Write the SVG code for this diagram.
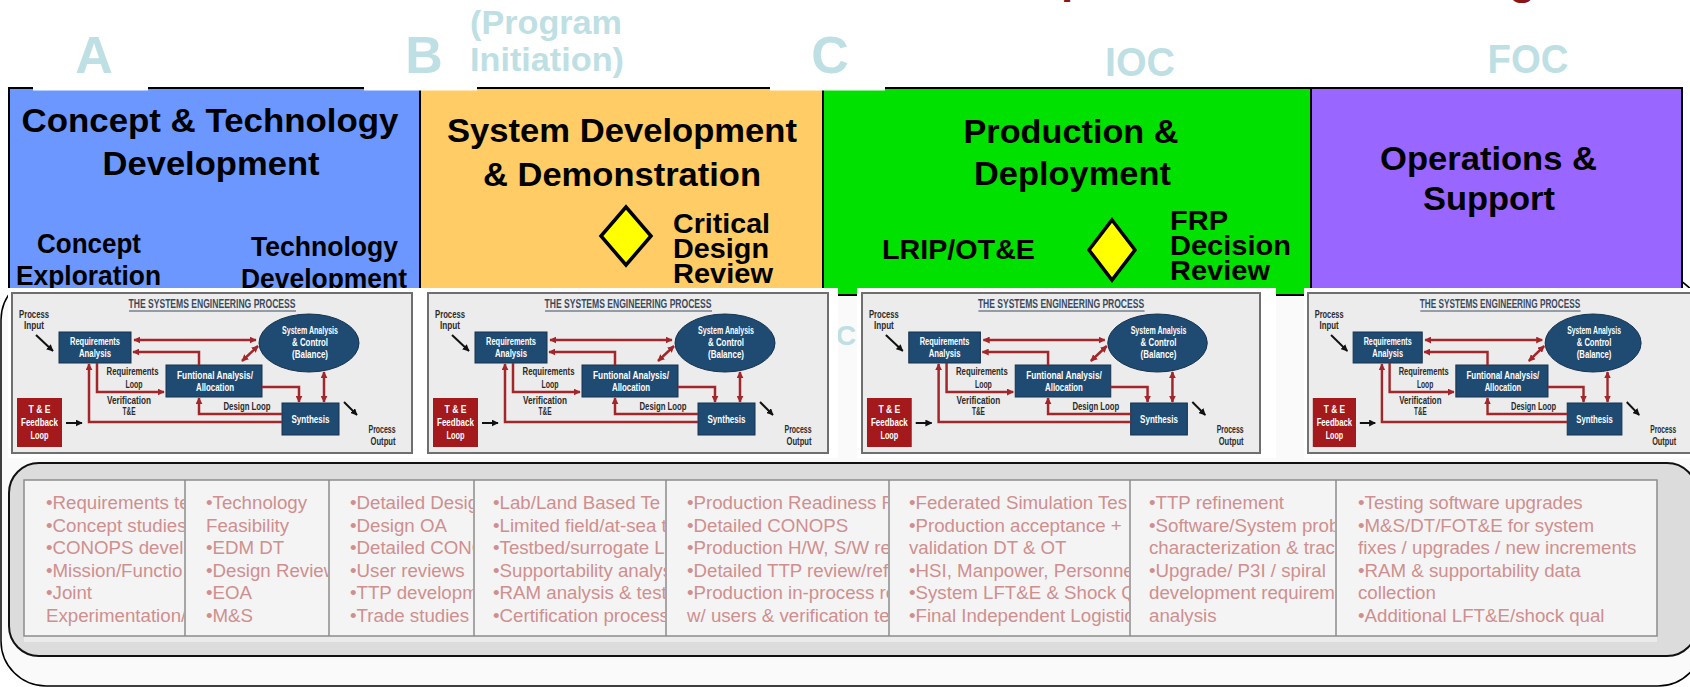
<svg xmlns="http://www.w3.org/2000/svg" width="1690" height="687" viewBox="0 0 1690 687">
<defs>
<style>
text{font-family:"Liberation Sans",Arial,sans-serif}
.lt{font-weight:bold;fill:#BEDFE3}
.h{font-weight:bold;font-size:33px;text-anchor:middle;fill:#000}
.s{font-weight:bold;font-size:28px;fill:#000}
.dm{fill:#FFFF00;stroke:#000;stroke-width:3.5}
.tb{font-size:18.7px;fill:#CF8F8F}
.pp{fill:#ECECEC;stroke:#6F6F6F;stroke-width:2}
.ptt{font-weight:bold;font-size:12.5px;text-anchor:middle;fill:#3A4A5E}
.pul{stroke:#3A4A5E;stroke-width:1}
.nv{fill:#1F4A72;stroke:#16324F;stroke-width:1}
.rd{fill:#A3191C}
.wt{font-weight:bold;font-size:10.5px;text-anchor:middle;fill:#fff}
.pl{font-weight:bold;font-size:10.5px;text-anchor:middle;fill:#2A2A2A}
.rl{fill:none;stroke:#A3262A;stroke-width:2.5}
.bk{stroke:#111;stroke-width:2}
.tbl{fill:#F4F4F4;stroke:#8C8C8C;stroke-width:1.5}
.div{stroke:#8C8C8C;stroke-width:1.5}
.wb{fill:#FFFFFF}
</style>
<marker id="ra" viewBox="0 0 10 10" refX="9" refY="5" markerWidth="7" markerHeight="7" markerUnits="userSpaceOnUse" orient="auto-start-reverse"><path d="M0,0L10,5L0,10z" fill="#A3262A"/></marker>
<marker id="ka" viewBox="0 0 10 10" refX="9" refY="5" markerWidth="7" markerHeight="7" markerUnits="userSpaceOnUse" orient="auto"><path d="M0,0L10,5L0,10z" fill="#111"/></marker>
<clipPath id="c1"><rect x="25" y="481" width="159" height="154"/></clipPath>
<clipPath id="c2"><rect x="186" y="481" width="142" height="154"/></clipPath>
<clipPath id="c3"><rect x="330" y="481" width="143" height="154"/></clipPath>
<clipPath id="c4"><rect x="475" y="481" width="190" height="154"/></clipPath>
<clipPath id="c5"><rect x="667" y="481" width="221" height="154"/></clipPath>
<clipPath id="c6"><rect x="890" y="481" width="239" height="154"/></clipPath>
<clipPath id="c7"><rect x="1131" y="481" width="204" height="154"/></clipPath>
<clipPath id="c8"><rect x="1337" y="481" width="319" height="154"/></clipPath>
</defs>
<rect x="0" y="0" width="1690" height="687" fill="#FFFFFF"/>

<g id="title-fragments">
<text x="1061" y="-7" style="font-weight:bold;font-size:44px;fill:#8B1414">p</text>
<text x="1509" y="-6" style="font-weight:bold;font-size:44px;fill:#8B1414">g</text>
</g>

<g id="milestones">
<text class="lt" x="94" y="73" style="font-size:52px" text-anchor="middle">A</text>
<text class="lt" x="424" y="73" style="font-size:52px" text-anchor="middle">B</text>
<text class="lt" x="470" y="34" style="font-size:33px" textLength="152" lengthAdjust="spacingAndGlyphs">(Program</text>
<text class="lt" x="470" y="71" style="font-size:33px" textLength="154" lengthAdjust="spacingAndGlyphs">Initiation)</text>
<text class="lt" x="830" y="73" style="font-size:52px" text-anchor="middle">C</text>
<text class="lt" x="1140" y="76" style="font-size:40px" text-anchor="middle" textLength="70" lengthAdjust="spacingAndGlyphs">IOC</text>
<text class="lt" x="1528" y="73" style="font-size:40px" text-anchor="middle" textLength="81" lengthAdjust="spacingAndGlyphs">FOC</text>
</g>

<rect id="outer-frame" x="1" y="275" width="1702" height="411" rx="45" fill="#FAFAFA" stroke="#000" stroke-width="1.5"/>

<g id="phase-concept">
<rect x="9" y="88" width="411" height="207" fill="#6B97FF"/>
<text class="h" x="210" y="132" textLength="377" lengthAdjust="spacingAndGlyphs">Concept &amp; Technology</text>
<text class="h" x="211" y="175" textLength="217" lengthAdjust="spacingAndGlyphs">Development</text>
<text class="s" x="89" y="253" text-anchor="middle" textLength="104" lengthAdjust="spacingAndGlyphs">Concept</text>
<text class="s" x="88.5" y="285" text-anchor="middle" textLength="145" lengthAdjust="spacingAndGlyphs">Exploration</text>
<text class="s" x="324.5" y="256" text-anchor="middle" textLength="147" lengthAdjust="spacingAndGlyphs">Technology</text>
<text class="s" x="324" y="288" text-anchor="middle" textLength="166" lengthAdjust="spacingAndGlyphs">Development</text>
</g>
<g id="phase-sdd">
<rect x="420" y="88" width="403" height="207" fill="#FFCC66"/>
<text class="h" x="622" y="142" textLength="350" lengthAdjust="spacingAndGlyphs">System Development</text>
<text class="h" x="622" y="186" textLength="278" lengthAdjust="spacingAndGlyphs">&amp; Demonstration</text>
<polygon class="dm" points="626,207 651,236 626,265 601,236"/>
<text class="s" x="673" y="233" textLength="97" lengthAdjust="spacingAndGlyphs">Critical</text>
<text class="s" x="673" y="258" textLength="96" lengthAdjust="spacingAndGlyphs">Design</text>
<text class="s" x="673" y="283" textLength="100" lengthAdjust="spacingAndGlyphs">Review</text>
</g>
<g id="phase-pd">
<rect x="823" y="88" width="488" height="207" fill="#00E100"/>
<text class="h" x="1071" y="143" textLength="215" lengthAdjust="spacingAndGlyphs">Production &amp;</text>
<text class="h" x="1072.5" y="185" textLength="197" lengthAdjust="spacingAndGlyphs">Deployment</text>
<text class="s" x="882" y="259" textLength="153" lengthAdjust="spacingAndGlyphs">LRIP/OT&amp;E</text>
<polygon class="dm" points="1112,220 1135,250 1112,280 1089,250"/>
<text class="s" x="1170" y="230" textLength="58" lengthAdjust="spacingAndGlyphs">FRP</text>
<text class="s" x="1170" y="255" textLength="121" lengthAdjust="spacingAndGlyphs">Decision</text>
<text class="s" x="1170" y="280" textLength="100" lengthAdjust="spacingAndGlyphs">Review</text>
</g>
<g id="phase-os">
<rect x="1311" y="88" width="371" height="207" fill="#9966FF"/>
<text class="h" x="1488.5" y="170" textLength="217" lengthAdjust="spacingAndGlyphs">Operations &amp;</text>
<text class="h" x="1489" y="210" textLength="132" lengthAdjust="spacingAndGlyphs">Support</text>
</g>
<g id="phase-borders">
<rect x="9" y="88" width="1673" height="207" fill="none" stroke="#000" stroke-width="2"/>
<path d="M420 88V295M823 88V295M1311 88V295" stroke="#000" stroke-width="2"/>
<rect x="33" y="86" width="115" height="4.5" fill="#FFFFFF"/>
<rect x="364" y="86" width="113" height="4.5" fill="#FFFFFF"/>
<rect x="770" y="86" width="115" height="4.5" fill="#FFFFFF"/>
</g>

<text class="lt" x="836" y="345" style="font-size:28px">C</text>

<g id="panel-backgrounds">
<rect class="wb" x="8" y="288" width="415" height="170"/>
<rect class="wb" x="423" y="288" width="415" height="170"/>
<rect class="wb" x="857" y="288" width="419" height="170"/>
<rect class="wb" x="1304" y="288" width="386" height="170"/>
</g>

<g id="sep-1" transform="translate(12,293)">
<rect class="pp" x="0" y="0" width="400" height="160"/>
<text class="ptt" x="200" y="15" textLength="167" lengthAdjust="spacingAndGlyphs">THE SYSTEMS ENGINEERING PROCESS</text>
<line class="pul" x1="117" y1="18" x2="284" y2="18"/>
<text class="pl" x="22" y="25" textLength="30" lengthAdjust="spacingAndGlyphs">Process</text>
<text class="pl" x="22" y="36" textLength="20" lengthAdjust="spacingAndGlyphs">Input</text>
<rect class="nv" x="47" y="39" width="72" height="31"/>
<text class="wt" x="83" y="52" textLength="50" lengthAdjust="spacingAndGlyphs">Requirements</text>
<text class="wt" x="83" y="64" textLength="32" lengthAdjust="spacingAndGlyphs">Analysis</text>
<ellipse class="nv" cx="297" cy="50" rx="50" ry="29"/>
<text class="wt" x="298" y="41" textLength="56" lengthAdjust="spacingAndGlyphs">System Analysis</text>
<text class="wt" x="298" y="53" textLength="36" lengthAdjust="spacingAndGlyphs">&amp; Control</text>
<text class="wt" x="298" y="65" textLength="36" lengthAdjust="spacingAndGlyphs">(Balance)</text>
<rect class="nv" x="154" y="72" width="96" height="32"/>
<text class="wt" x="203" y="86" textLength="76" lengthAdjust="spacingAndGlyphs">Funtional Analysis/</text>
<text class="wt" x="203" y="98" textLength="38" lengthAdjust="spacingAndGlyphs">Allocation</text>
<rect class="nv" x="270" y="110" width="57" height="32"/>
<text class="wt" x="298.5" y="130" textLength="38" lengthAdjust="spacingAndGlyphs">Synthesis</text>
<rect class="rd" x="5" y="105" width="45" height="49"/>
<text class="wt" x="27.5" y="120" textLength="22" lengthAdjust="spacingAndGlyphs">T &amp; E</text>
<text class="wt" x="27.5" y="133" textLength="37" lengthAdjust="spacingAndGlyphs">Feedback</text>
<text class="wt" x="27.5" y="146" textLength="18" lengthAdjust="spacingAndGlyphs">Loop</text>
<text class="pl" x="120.5" y="82" textLength="52" lengthAdjust="spacingAndGlyphs">Requirements</text>
<text class="pl" x="122" y="95" textLength="17" lengthAdjust="spacingAndGlyphs">Loop</text>
<text class="pl" x="117" y="111" textLength="44" lengthAdjust="spacingAndGlyphs">Verification</text>
<text class="pl" x="117" y="122" textLength="13" lengthAdjust="spacingAndGlyphs">T&amp;E</text>
<text class="pl" x="235" y="117" textLength="47" lengthAdjust="spacingAndGlyphs">Design Loop</text>
<text class="pl" x="370" y="140" textLength="27" lengthAdjust="spacingAndGlyphs">Process</text>
<text class="pl" x="371" y="152" textLength="25" lengthAdjust="spacingAndGlyphs">Output</text>
<g class="connectors">
<line class="bk" x1="24" y1="42" x2="41" y2="58" marker-end="url(#ka)"/>
<line class="bk" x1="54" y1="130" x2="70" y2="130" marker-end="url(#ka)"/>
<line class="bk" x1="332" y1="109" x2="345" y2="122" marker-end="url(#ka)"/>
<path class="rl" d="M122 47H244" marker-start="url(#ra)" marker-end="url(#ra)"/>
<path class="rl" d="M187 72V59H121" marker-end="url(#ra)"/>
<path class="rl" d="M246 53L230 68" marker-start="url(#ra)" marker-end="url(#ra)"/>
<path class="rl" d="M85 70V99H152" marker-end="url(#ra)"/>
<path class="rl" d="M250 94H287V109" marker-end="url(#ra)"/>
<path class="rl" d="M312 79V109" marker-start="url(#ra)" marker-end="url(#ra)"/>
<path class="rl" d="M270 121H187V105" marker-end="url(#ra)"/>
<path class="rl" d="M270 129H77V71" marker-end="url(#ra)"/>
</g>
</g>

<g id="sep-2" transform="translate(428,293)">
<rect class="pp" x="0" y="0" width="400" height="160"/>
<text class="ptt" x="200" y="15" textLength="167" lengthAdjust="spacingAndGlyphs">THE SYSTEMS ENGINEERING PROCESS</text>
<line class="pul" x1="117" y1="18" x2="284" y2="18"/>
<text class="pl" x="22" y="25" textLength="30" lengthAdjust="spacingAndGlyphs">Process</text>
<text class="pl" x="22" y="36" textLength="20" lengthAdjust="spacingAndGlyphs">Input</text>
<rect class="nv" x="47" y="39" width="72" height="31"/>
<text class="wt" x="83" y="52" textLength="50" lengthAdjust="spacingAndGlyphs">Requirements</text>
<text class="wt" x="83" y="64" textLength="32" lengthAdjust="spacingAndGlyphs">Analysis</text>
<ellipse class="nv" cx="297" cy="50" rx="50" ry="29"/>
<text class="wt" x="298" y="41" textLength="56" lengthAdjust="spacingAndGlyphs">System Analysis</text>
<text class="wt" x="298" y="53" textLength="36" lengthAdjust="spacingAndGlyphs">&amp; Control</text>
<text class="wt" x="298" y="65" textLength="36" lengthAdjust="spacingAndGlyphs">(Balance)</text>
<rect class="nv" x="154" y="72" width="96" height="32"/>
<text class="wt" x="203" y="86" textLength="76" lengthAdjust="spacingAndGlyphs">Funtional Analysis/</text>
<text class="wt" x="203" y="98" textLength="38" lengthAdjust="spacingAndGlyphs">Allocation</text>
<rect class="nv" x="270" y="110" width="57" height="32"/>
<text class="wt" x="298.5" y="130" textLength="38" lengthAdjust="spacingAndGlyphs">Synthesis</text>
<rect class="rd" x="5" y="105" width="45" height="49"/>
<text class="wt" x="27.5" y="120" textLength="22" lengthAdjust="spacingAndGlyphs">T &amp; E</text>
<text class="wt" x="27.5" y="133" textLength="37" lengthAdjust="spacingAndGlyphs">Feedback</text>
<text class="wt" x="27.5" y="146" textLength="18" lengthAdjust="spacingAndGlyphs">Loop</text>
<text class="pl" x="120.5" y="82" textLength="52" lengthAdjust="spacingAndGlyphs">Requirements</text>
<text class="pl" x="122" y="95" textLength="17" lengthAdjust="spacingAndGlyphs">Loop</text>
<text class="pl" x="117" y="111" textLength="44" lengthAdjust="spacingAndGlyphs">Verification</text>
<text class="pl" x="117" y="122" textLength="13" lengthAdjust="spacingAndGlyphs">T&amp;E</text>
<text class="pl" x="235" y="117" textLength="47" lengthAdjust="spacingAndGlyphs">Design Loop</text>
<text class="pl" x="370" y="140" textLength="27" lengthAdjust="spacingAndGlyphs">Process</text>
<text class="pl" x="371" y="152" textLength="25" lengthAdjust="spacingAndGlyphs">Output</text>
<g class="connectors">
<line class="bk" x1="24" y1="42" x2="41" y2="58" marker-end="url(#ka)"/>
<line class="bk" x1="54" y1="130" x2="70" y2="130" marker-end="url(#ka)"/>
<line class="bk" x1="332" y1="109" x2="345" y2="122" marker-end="url(#ka)"/>
<path class="rl" d="M122 47H244" marker-start="url(#ra)" marker-end="url(#ra)"/>
<path class="rl" d="M187 72V59H121" marker-end="url(#ra)"/>
<path class="rl" d="M246 53L230 68" marker-start="url(#ra)" marker-end="url(#ra)"/>
<path class="rl" d="M85 70V99H152" marker-end="url(#ra)"/>
<path class="rl" d="M250 94H287V109" marker-end="url(#ra)"/>
<path class="rl" d="M312 79V109" marker-start="url(#ra)" marker-end="url(#ra)"/>
<path class="rl" d="M270 121H187V105" marker-end="url(#ra)"/>
<path class="rl" d="M270 129H77V71" marker-end="url(#ra)"/>
</g>
</g>

<g id="sep-3" transform="translate(862,293) scale(0.995,1)">
<rect class="pp" x="0" y="0" width="400" height="160"/>
<text class="ptt" x="200" y="15" textLength="167" lengthAdjust="spacingAndGlyphs">THE SYSTEMS ENGINEERING PROCESS</text>
<line class="pul" x1="117" y1="18" x2="284" y2="18"/>
<text class="pl" x="22" y="25" textLength="30" lengthAdjust="spacingAndGlyphs">Process</text>
<text class="pl" x="22" y="36" textLength="20" lengthAdjust="spacingAndGlyphs">Input</text>
<rect class="nv" x="47" y="39" width="72" height="31"/>
<text class="wt" x="83" y="52" textLength="50" lengthAdjust="spacingAndGlyphs">Requirements</text>
<text class="wt" x="83" y="64" textLength="32" lengthAdjust="spacingAndGlyphs">Analysis</text>
<ellipse class="nv" cx="297" cy="50" rx="50" ry="29"/>
<text class="wt" x="298" y="41" textLength="56" lengthAdjust="spacingAndGlyphs">System Analysis</text>
<text class="wt" x="298" y="53" textLength="36" lengthAdjust="spacingAndGlyphs">&amp; Control</text>
<text class="wt" x="298" y="65" textLength="36" lengthAdjust="spacingAndGlyphs">(Balance)</text>
<rect class="nv" x="154" y="72" width="96" height="32"/>
<text class="wt" x="203" y="86" textLength="76" lengthAdjust="spacingAndGlyphs">Funtional Analysis/</text>
<text class="wt" x="203" y="98" textLength="38" lengthAdjust="spacingAndGlyphs">Allocation</text>
<rect class="nv" x="270" y="110" width="57" height="32"/>
<text class="wt" x="298.5" y="130" textLength="38" lengthAdjust="spacingAndGlyphs">Synthesis</text>
<rect class="rd" x="5" y="105" width="45" height="49"/>
<text class="wt" x="27.5" y="120" textLength="22" lengthAdjust="spacingAndGlyphs">T &amp; E</text>
<text class="wt" x="27.5" y="133" textLength="37" lengthAdjust="spacingAndGlyphs">Feedback</text>
<text class="wt" x="27.5" y="146" textLength="18" lengthAdjust="spacingAndGlyphs">Loop</text>
<text class="pl" x="120.5" y="82" textLength="52" lengthAdjust="spacingAndGlyphs">Requirements</text>
<text class="pl" x="122" y="95" textLength="17" lengthAdjust="spacingAndGlyphs">Loop</text>
<text class="pl" x="117" y="111" textLength="44" lengthAdjust="spacingAndGlyphs">Verification</text>
<text class="pl" x="117" y="122" textLength="13" lengthAdjust="spacingAndGlyphs">T&amp;E</text>
<text class="pl" x="235" y="117" textLength="47" lengthAdjust="spacingAndGlyphs">Design Loop</text>
<text class="pl" x="370" y="140" textLength="27" lengthAdjust="spacingAndGlyphs">Process</text>
<text class="pl" x="371" y="152" textLength="25" lengthAdjust="spacingAndGlyphs">Output</text>
<g class="connectors">
<line class="bk" x1="24" y1="42" x2="41" y2="58" marker-end="url(#ka)"/>
<line class="bk" x1="54" y1="130" x2="70" y2="130" marker-end="url(#ka)"/>
<line class="bk" x1="332" y1="109" x2="345" y2="122" marker-end="url(#ka)"/>
<path class="rl" d="M122 47H244" marker-start="url(#ra)" marker-end="url(#ra)"/>
<path class="rl" d="M187 72V59H121" marker-end="url(#ra)"/>
<path class="rl" d="M246 53L230 68" marker-start="url(#ra)" marker-end="url(#ra)"/>
<path class="rl" d="M85 70V99H152" marker-end="url(#ra)"/>
<path class="rl" d="M250 94H287V109" marker-end="url(#ra)"/>
<path class="rl" d="M312 79V109" marker-start="url(#ra)" marker-end="url(#ra)"/>
<path class="rl" d="M270 121H187V105" marker-end="url(#ra)"/>
<path class="rl" d="M270 129H77V71" marker-end="url(#ra)"/>
</g>
</g>

<g id="sep-4" transform="translate(1308,293) scale(0.96,1)">
<rect class="pp" x="0" y="0" width="400" height="160"/>
<text class="ptt" x="200" y="15" textLength="167" lengthAdjust="spacingAndGlyphs">THE SYSTEMS ENGINEERING PROCESS</text>
<line class="pul" x1="117" y1="18" x2="284" y2="18"/>
<text class="pl" x="22" y="25" textLength="30" lengthAdjust="spacingAndGlyphs">Process</text>
<text class="pl" x="22" y="36" textLength="20" lengthAdjust="spacingAndGlyphs">Input</text>
<rect class="nv" x="47" y="39" width="72" height="31"/>
<text class="wt" x="83" y="52" textLength="50" lengthAdjust="spacingAndGlyphs">Requirements</text>
<text class="wt" x="83" y="64" textLength="32" lengthAdjust="spacingAndGlyphs">Analysis</text>
<ellipse class="nv" cx="297" cy="50" rx="50" ry="29"/>
<text class="wt" x="298" y="41" textLength="56" lengthAdjust="spacingAndGlyphs">System Analysis</text>
<text class="wt" x="298" y="53" textLength="36" lengthAdjust="spacingAndGlyphs">&amp; Control</text>
<text class="wt" x="298" y="65" textLength="36" lengthAdjust="spacingAndGlyphs">(Balance)</text>
<rect class="nv" x="154" y="72" width="96" height="32"/>
<text class="wt" x="203" y="86" textLength="76" lengthAdjust="spacingAndGlyphs">Funtional Analysis/</text>
<text class="wt" x="203" y="98" textLength="38" lengthAdjust="spacingAndGlyphs">Allocation</text>
<rect class="nv" x="270" y="110" width="57" height="32"/>
<text class="wt" x="298.5" y="130" textLength="38" lengthAdjust="spacingAndGlyphs">Synthesis</text>
<rect class="rd" x="5" y="105" width="45" height="49"/>
<text class="wt" x="27.5" y="120" textLength="22" lengthAdjust="spacingAndGlyphs">T &amp; E</text>
<text class="wt" x="27.5" y="133" textLength="37" lengthAdjust="spacingAndGlyphs">Feedback</text>
<text class="wt" x="27.5" y="146" textLength="18" lengthAdjust="spacingAndGlyphs">Loop</text>
<text class="pl" x="120.5" y="82" textLength="52" lengthAdjust="spacingAndGlyphs">Requirements</text>
<text class="pl" x="122" y="95" textLength="17" lengthAdjust="spacingAndGlyphs">Loop</text>
<text class="pl" x="117" y="111" textLength="44" lengthAdjust="spacingAndGlyphs">Verification</text>
<text class="pl" x="117" y="122" textLength="13" lengthAdjust="spacingAndGlyphs">T&amp;E</text>
<text class="pl" x="235" y="117" textLength="47" lengthAdjust="spacingAndGlyphs">Design Loop</text>
<text class="pl" x="370" y="140" textLength="27" lengthAdjust="spacingAndGlyphs">Process</text>
<text class="pl" x="371" y="152" textLength="25" lengthAdjust="spacingAndGlyphs">Output</text>
<g class="connectors">
<line class="bk" x1="24" y1="42" x2="41" y2="58" marker-end="url(#ka)"/>
<line class="bk" x1="54" y1="130" x2="70" y2="130" marker-end="url(#ka)"/>
<line class="bk" x1="332" y1="109" x2="345" y2="122" marker-end="url(#ka)"/>
<path class="rl" d="M122 47H244" marker-start="url(#ra)" marker-end="url(#ra)"/>
<path class="rl" d="M187 72V59H121" marker-end="url(#ra)"/>
<path class="rl" d="M246 53L230 68" marker-start="url(#ra)" marker-end="url(#ra)"/>
<path class="rl" d="M85 70V99H152" marker-end="url(#ra)"/>
<path class="rl" d="M250 94H287V109" marker-end="url(#ra)"/>
<path class="rl" d="M312 79V109" marker-start="url(#ra)" marker-end="url(#ra)"/>
<path class="rl" d="M270 121H187V105" marker-end="url(#ra)"/>
<path class="rl" d="M270 129H77V71" marker-end="url(#ra)"/>
</g>
</g>

<g id="activities">
<rect x="9" y="463" width="1688" height="193" rx="30" fill="#DCDCDC" stroke="#111" stroke-width="2"/>
<rect x="24" y="636" width="1633" height="6" fill="#EBEBEB"/>
<rect class="tbl" x="24" y="480" width="1633" height="156"/>
<path class="div" d="M185 480V636M329 480V636M474 480V636M666 480V636M889 480V636M1130 480V636M1336 480V636"/>
<g id="col-1" clip-path="url(#c1)">
<text class="tb" x="46" y="509">•Requirements te</text>
<text class="tb" x="46" y="531.5">•Concept studies</text>
<text class="tb" x="46" y="554">•CONOPS develo</text>
<text class="tb" x="46" y="576.5">•Mission/Functio</text>
<text class="tb" x="46" y="599">•Joint</text>
<text class="tb" x="46" y="621.5">Experimentation/</text>
</g>
<g id="col-2" clip-path="url(#c2)">
<text class="tb" x="206" y="509">•Technology</text>
<text class="tb" x="206" y="531.5">Feasibility</text>
<text class="tb" x="206" y="554">•EDM DT</text>
<text class="tb" x="206" y="576.5">•Design Review</text>
<text class="tb" x="206" y="599">•EOA</text>
<text class="tb" x="206" y="621.5">•M&amp;S</text>
</g>
<g id="col-3" clip-path="url(#c3)">
<text class="tb" x="350" y="509">•Detailed Desig</text>
<text class="tb" x="350" y="531.5">•Design OA</text>
<text class="tb" x="350" y="554">•Detailed CONO</text>
<text class="tb" x="350" y="576.5">•User reviews</text>
<text class="tb" x="350" y="599">•TTP developm</text>
<text class="tb" x="350" y="621.5">•Trade studies</text>
</g>
<g id="col-4" clip-path="url(#c4)">
<text class="tb" x="493" y="509">•Lab/Land Based Te</text>
<text class="tb" x="493" y="531.5">•Limited field/at-sea t</text>
<text class="tb" x="493" y="554">•Testbed/surrogate L</text>
<text class="tb" x="493" y="576.5">•Supportability analys</text>
<text class="tb" x="493" y="599">•RAM analysis &amp; test</text>
<text class="tb" x="493" y="621.5">•Certification process</text>
</g>
<g id="col-5" clip-path="url(#c5)">
<text class="tb" x="687" y="509">•Production Readiness R</text>
<text class="tb" x="687" y="531.5">•Detailed CONOPS</text>
<text class="tb" x="687" y="554">•Production H/W, S/W re</text>
<text class="tb" x="687" y="576.5">•Detailed TTP review/refi</text>
<text class="tb" x="687" y="599">•Production in-process re</text>
<text class="tb" x="687" y="621.5">w/ users &amp; verification te</text>
</g>
<g id="col-6" clip-path="url(#c6)">
<text class="tb" x="909" y="509">•Federated Simulation Tes</text>
<text class="tb" x="909" y="531.5">•Production acceptance +</text>
<text class="tb" x="909" y="554">validation DT &amp; OT</text>
<text class="tb" x="909" y="576.5">•HSI, Manpower, Personne</text>
<text class="tb" x="909" y="599">•System LFT&amp;E &amp; Shock Q</text>
<text class="tb" x="909" y="621.5">•Final Independent Logistic</text>
</g>
<g id="col-7" clip-path="url(#c7)">
<text class="tb" x="1149" y="509">•TTP refinement</text>
<text class="tb" x="1149" y="531.5">•Software/System prob</text>
<text class="tb" x="1149" y="554">characterization &amp; trac</text>
<text class="tb" x="1149" y="576.5">•Upgrade/ P3I / spiral</text>
<text class="tb" x="1149" y="599">development requirem</text>
<text class="tb" x="1149" y="621.5">analysis</text>
</g>
<g id="col-8" clip-path="url(#c8)">
<text class="tb" x="1358" y="509">•Testing software upgrades</text>
<text class="tb" x="1358" y="531.5">•M&amp;S/DT/FOT&amp;E for system</text>
<text class="tb" x="1358" y="554">fixes / upgrades / new increments</text>
<text class="tb" x="1358" y="576.5">•RAM &amp; supportability data</text>
<text class="tb" x="1358" y="599">collection</text>
<text class="tb" x="1358" y="621.5">•Additional LFT&amp;E/shock qual</text>
</g>
</g>
</svg>
